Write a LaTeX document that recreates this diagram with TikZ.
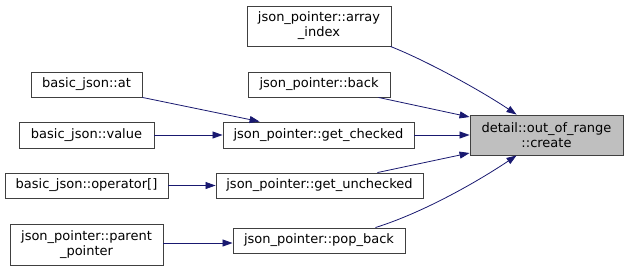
\documentclass[tikz,border=0pt]{standalone}
\usepackage{fontspec}
\setmainfont{DejaVu Sans}
\usetikzlibrary{arrows.meta,calc}
\definecolor{edgeblue}{HTML}{191970}
\definecolor{boxline}{HTML}{404040}
\definecolor{focusfill}{HTML}{BFBFBF}
\tikzset{
  x=1pt, y=1pt,
  fn/.style={draw=boxline, line width=0.9pt, fill=white, rectangle, inner sep=0pt,
             align=center, font=\fontsize{13}{15}\selectfont, text=black},
  focus/.style={fn, fill=focusfill},
  call/.style={draw=edgeblue, line width=0.8pt,
               -{Triangle[length=10pt,width=7pt,fill=edgeblue]}},
}
\begin{document}
\begin{tikzpicture}
\useasboundingbox (0,0) rectangle (628,-271);

% callee
\node[focus, minimum width=153, minimum height=40] (cr) at (546.5,-135) {detail::out\_of\_range\\::create};

% direct callers
\node[fn, minimum width=144, minimum height=40] (ai) at (319,-26) {json\_pointer::array\\\_index};
\node[fn, minimum width=142, minimum height=25] (bk) at (319,-84.5) {json\_pointer::back};
\node[fn, minimum width=191, minimum height=26] (gc) at (318.5,-135) {json\_pointer::get\_checked};
\node[fn, minimum width=207, minimum height=25] (gu) at (319.5,-185.5) {json\_pointer::get\_unchecked};
\node[fn, minimum width=172, minimum height=25] (pb) at (319,-240.5) {json\_pointer::pop\_back};

% second-level callers
\node[fn, minimum width=111, minimum height=25] (at) at (86.5,-84.5) {basic\_json::at};
\node[fn, minimum width=135, minimum height=26] (val) at (86.5,-135) {basic\_json::value};
\node[fn, minimum width=163, minimum height=25] (op) at (86.5,-185.5) {basic\_json::operator[]};
\node[fn, minimum width=153, minimum height=41] (pp) at (86.5,-244.5) {json\_pointer::parent\\\_pointer};

% calls into the callee
\draw[call] ($(ai.south east)+(-1,0)$) .. controls (425,-60) and (480,-90) .. ($(cr.north west)+(47,0)$);
\draw[call] ($(bk.south east)+(-12,0)$) -- ($(cr.west)+(0,18)$);
\draw[call] (gc.east) -- (cr.west);
\draw[call] ($(gu.north east)+(-46,0)$) -- ($(cr.west)+(0,-18)$);
\draw[call] ($(pb.north east)+(-30,0)$) .. controls (425,-212) and (480,-180) .. ($(cr.south west)+(47,0)$);

% calls into the direct callers
\draw[call] (at.south east) -- ($(gc.north west)+(37,0)$);
\draw[call] (val.east) -- (gc.west);
\draw[call] (op.east) -- (gu.west);
\draw[call] ($(pp.east)+(0,1.5)$) -- ($(pb.west)+(0,-2.5)$);
\end{tikzpicture}
\end{document}
